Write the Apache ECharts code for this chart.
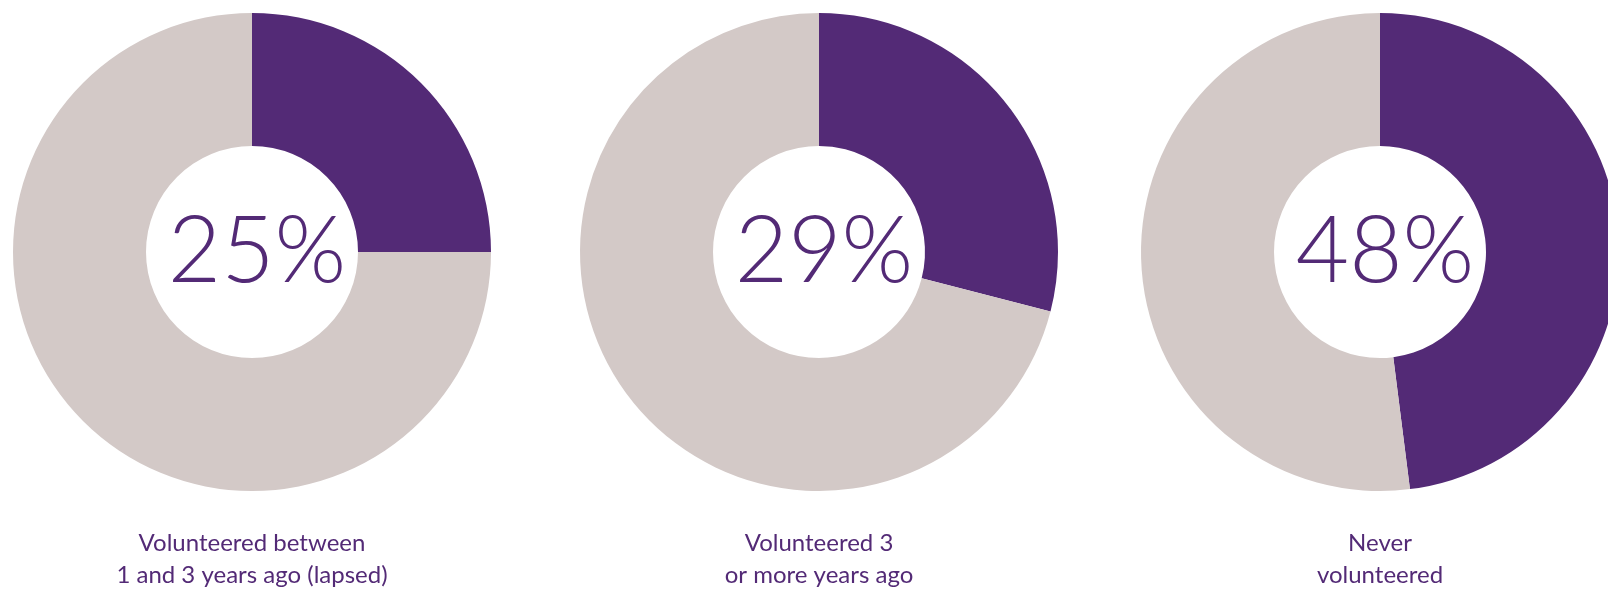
<!DOCTYPE html>
<html>
<head>
<meta charset="utf-8">
<script src="https://cdn.jsdelivr.net/npm/echarts@6/dist/echarts.min.js"></script>
<style>
  html, body { margin: 0; padding: 0; background: #fff; }
  #chart { width: 1608px; height: 590px; }
</style>
</head>
<body>
<div id="chart"></div>
<script>
const groups = ['Volunteered between\n1 and 3 years ago (lapsed)', 'Volunteered 3\nor more years ago', 'Never\nvolunteered']
const shares = [25, 29, 48]
const centersX = [252, 819, 1380]

const purple = '#532a76'
const grey = '#d3c9c7'

const chart = echarts.init(document.getElementById('chart'))

const series = shares.map((v, i) => ({
  type: 'pie',
  center: [centersX[i], 252],
  radius: [106, 239],
  startAngle: 90,
  clockwise: true,
  silent: true,
  animation: false,
  emphasis: { disabled: true },
  labelLine: { show: false },
  itemStyle: { borderWidth: 0 },
  data: [
    {
      value: v,
      itemStyle: { color: purple },
      label: {
        show: true,
        position: 'center',
        formatter: v + '%',
        color: purple,
        fontFamily: 'Lato',
        fontWeight: 300,
        fontSize: 92,
        padding: [16, 0, 0, 10]
      }
    },
    { value: 100 - v, itemStyle: { color: grey }, label: { show: false } }
  ]
}))

const titles = groups.map((g, i) => ({
  text: g,
  left: centersX[i],
  top: 527,
  textAlign: 'center',
  padding: 0,
  textStyle: {
    color: purple,
    fontFamily: 'Lato',
    fontWeight: 'normal',
    fontSize: 24,
    lineHeight: 32
  }
}))

chart.setOption({
  backgroundColor: '#fff',
  title: titles,
  series: series
})
</script>
</body>
</html>
